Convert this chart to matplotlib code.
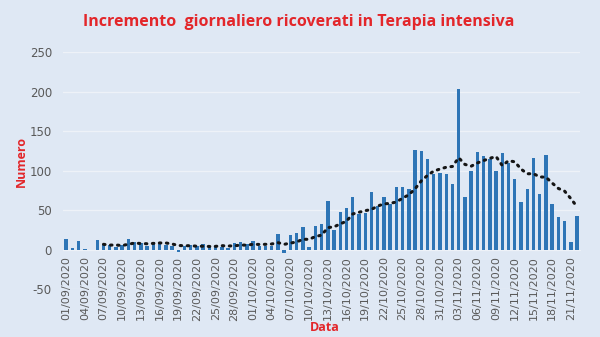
import datetime as dt
import numpy as np
import matplotlib
matplotlib.use("Agg")
import matplotlib.pyplot as plt

plt.rcParams["axes.unicode_minus"] = False

# Daily increase of ICU admissions, 01/09/2020 - 22/11/2020
start_date = dt.date(2020, 9, 1)
daily_increase = [
    13, 2, 11, 1, 0, 12, 7, 6, 3, 6,
    13, 10, 8, 5, 9, 7, 6, 4, -3, 5,
    6, 4, 7, 4, 5, 3, 2, 8, 10, 7,
    11, 4, 4, 5, 20, -5, 18, 21, 28, 3,
    30, 32, 62, 25, 47, 52, 67, 45, 46, 73,
    55, 66, 57, 79, 79, 76, 126, 125, 115, 95,
    97, 95, 83, 203, 66, 99, 124, 118, 115, 99,
    122, 110, 89, 60, 76, 116, 70, 120, 58, 41,
    36, 10, 43,
]
ma_window = 7
y_ticks = [-50, 0, 50, 100, 150, 200, 250]

dates = [start_date + dt.timedelta(days=i) for i in range(len(daily_increase))]
date_labels = [d.strftime("%d/%m/%Y") for d in dates]
x = np.arange(len(daily_increase))
values = np.array(daily_increase, dtype=float)

# trailing moving average (first value at the 7th day)
ma = np.convolve(values, np.ones(ma_window) / ma_window, mode="valid")
ma_x = x[ma_window - 1:]

bg = "#dfe8f4"
bar_color = "#2e75b6"
red = "#e3262a"
grey = "#595959"
grid_c = "#eef2f8"

fig = plt.figure(figsize=(6.0, 3.37), dpi=100, facecolor=bg)
ax = fig.add_axes([0.105, 0.1424, 0.862, 0.7033], facecolor=bg)

# category axis drawn along the zero line
for side in ["top", "right", "left"]:
    ax.spines[side].set_visible(False)
ax.spines["bottom"].set_position(("data", 0))
ax.spines["bottom"].set_color(grid_c)

ax.bar(x, values, width=0.55, color=bar_color, zorder=3)
ax.plot(ma_x, ma, linestyle=(0, (0.5, 1.8)), dash_capstyle="round",
        color="#151515", linewidth=2.2, zorder=4)

ax.set_xlim(-0.5, len(values) - 0.5)
ax.set_ylim(-50, 250)
ax.set_yticks(y_ticks)
ax.set_xticks(x[::3])
ax.set_xticklabels(date_labels[::3])

ax.grid(axis="y", color=grid_c, linewidth=1.0, zorder=0)
ax.tick_params(axis="both", length=0, colors=grey, labelsize=8)
ax.tick_params(axis="x", pad=5, labelrotation=90)
ax.tick_params(axis="y", pad=8, labelsize=8.5)

fig.text(0.498, 0.935, "Incremento  giornaliero ricoverati in Terapia intensiva",
         ha="center", va="center", color=red, fontsize=11.5, fontweight="bold",
         family="Open Sans")
fig.text(0.035, 0.52, "Numero", rotation=90, ha="center", va="center",
         color=red, fontsize=9, fontweight="bold", family="Open Sans")
fig.text(0.541, 0.028, "Data", ha="center", va="center",
         color=red, fontsize=9, fontweight="bold", family="Open Sans")

fig.savefig("out.png", dpi=100, facecolor=bg)
